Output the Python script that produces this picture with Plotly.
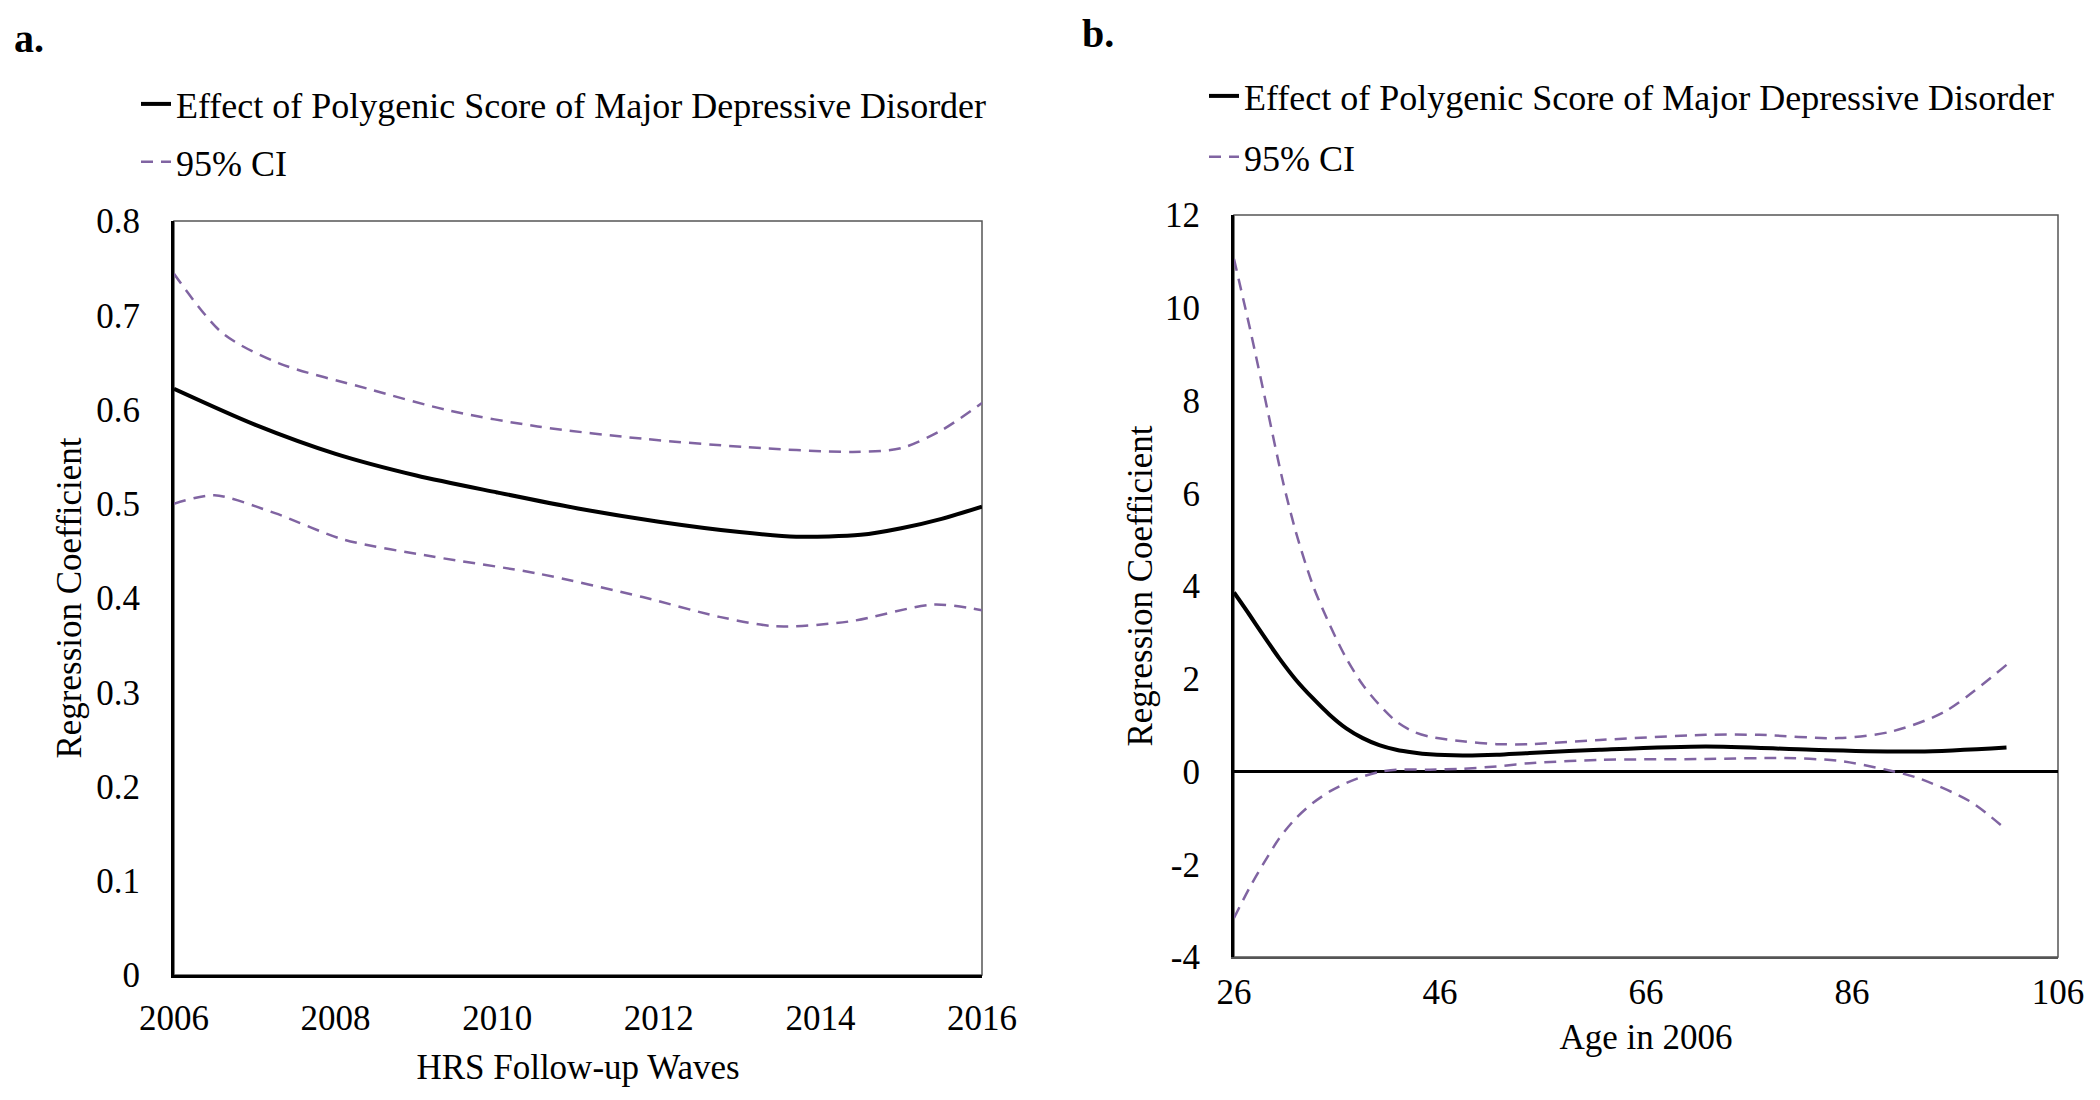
import plotly.graph_objects as go

# ---------------- Panel a data ----------------
a_main_x = [2006, 2007, 2008, 2009, 2010, 2011, 2012, 2013, 2013.7, 2014.5, 2015, 2015.5, 2016]
a_main_y = [0.622, 0.584, 0.553, 0.530, 0.512, 0.495, 0.481, 0.470, 0.465, 0.467, 0.474, 0.484, 0.497]
a_up_x = [2006, 2006.6, 2007.3, 2008.4, 2009.4, 2010.5, 2011.8, 2013.1, 2014.4, 2015, 2015.5, 2016]
a_up_y = [0.744, 0.681, 0.649, 0.622, 0.599, 0.582, 0.569, 0.560, 0.555, 0.559, 0.578, 0.607]
a_lo_x = [2006, 2006.5, 2007.25, 2008.1, 2009.2, 2010.5, 2011.8, 2012.75, 2013.45, 2014.35, 2015.4, 2016]
a_lo_y = [0.500, 0.509, 0.490, 0.462, 0.444, 0.426, 0.401, 0.380, 0.370, 0.375, 0.393, 0.387]
a_xticks = [2006, 2008, 2010, 2012, 2014, 2016]
a_yticks = [0, 0.1, 0.2, 0.3, 0.4, 0.5, 0.6, 0.7, 0.8]
a_yticklabels = ["0", "0.1", "0.2", "0.3", "0.4", "0.5", "0.6", "0.7", "0.8"]

# ---------------- Panel b data ----------------
b_main_x = [26, 27.5, 28.8, 30.4, 32.0, 33.65, 35.3, 36.9, 38.5, 40.1, 41.75, 43.4, 45.0, 48.2, 51.5, 54.7, 61.5, 71.8, 82.1, 92.4, 101]
b_main_y = [3.86, 3.38, 2.95, 2.44, 1.98, 1.58, 1.22, 0.93, 0.72, 0.57, 0.47, 0.41, 0.37, 0.345, 0.36, 0.40, 0.47, 0.54, 0.47, 0.43, 0.52]
b_up_x = [26, 27.6, 29.2, 30.7, 32.0, 33.65, 35.3, 36.9, 38.5, 40.1, 41.75, 43.4, 45.0, 48.2, 51.5, 54.7, 61.5, 71.8, 77.0, 84.7, 89.8, 95.0, 101]
b_up_y = [11.05, 9.5, 7.85, 6.3, 5.17, 4.02, 3.16, 2.44, 1.87, 1.44, 1.08, 0.86, 0.75, 0.65, 0.59, 0.59, 0.68, 0.79, 0.79, 0.72, 0.86, 1.29, 2.30]
b_lo_x = [26, 27.5, 28.8, 30.4, 32.0, 33.65, 35.3, 36.9, 38.5, 40.1, 41.75, 45.0, 48.2, 51.5, 54.7, 61.5, 71.8, 79.5, 84.7, 89.3, 92.4, 97.5, 101]
b_lo_y = [-3.16, -2.51, -2.01, -1.44, -1.01, -0.68, -0.43, -0.25, -0.11, -0.01, 0.04, 0.04, 0.06, 0.11, 0.18, 0.25, 0.27, 0.29, 0.23, 0.04, -0.14, -0.65, -1.26]
b_xticks = [26, 46, 66, 86, 106]
b_yticks = [-4, -2, 0, 2, 4, 6, 8, 10, 12]
b_yticklabels = ["-4", "-2", "0", "2", "4", "6", "8", "10", "12"]

MAIN_NAME = "Effect of Polygenic Score of Major Depressive Disorder"
CI_NAME = "95% CI"

FONT = "Liberation Serif, Times New Roman, serif"
FS = 35
PURPLE = "#8064A2"
W, H = 2100, 1100

fig = go.Figure()

def add_panel(xa, ya, legend, mx, my, ux, uy, lx, ly):
    fig.add_trace(go.Scatter(x=mx, y=my, mode="lines", name=MAIN_NAME,
                             line=dict(color="black", width=4, shape="spline", smoothing=0.8),
                             xaxis=xa, yaxis=ya, legend=legend, legendgroup=legend + "m"))
    fig.add_trace(go.Scatter(x=ux, y=uy, mode="lines", name=CI_NAME,
                             line=dict(color=PURPLE, width=2.5, dash="12px,8px", shape="spline", smoothing=0.8),
                             xaxis=xa, yaxis=ya, legend=legend, legendgroup=legend + "c"))
    fig.add_trace(go.Scatter(x=lx, y=ly, mode="lines", name=CI_NAME, showlegend=False,
                             line=dict(color=PURPLE, width=2.5, dash="12px,8px", shape="spline", smoothing=0.8),
                             xaxis=xa, yaxis=ya, legend=legend, legendgroup=legend + "c"))

add_panel("x", "y", "legend", a_main_x, a_main_y, a_up_x, a_up_y, a_lo_x, a_lo_y)
add_panel("x2", "y2", "legend2", b_main_x, b_main_y, b_up_x, b_up_y, b_lo_x, b_lo_y)

# domains from pixel positions
ax_dom = [174 / W, 982 / W]
ay_dom = [1 - 975 / H, 1 - 221 / H]
bx_dom = [1234 / W, 2058 / W]
by_dom = [1 - 957 / H, 1 - 215 / H]

tickfont = dict(family=FONT, size=FS, color="black")
titlefont = dict(family=FONT, size=FS, color="black")

legend_common = dict(font=dict(family=FONT, size=36, color="black"), bgcolor="rgba(0,0,0,0)",
                     xanchor="left", yanchor="top", tracegroupgap=8, itemwidth=30)

fig.update_layout(
    width=W, height=H,
    margin=dict(l=0, r=0, t=0, b=0),
    paper_bgcolor="white", plot_bgcolor="white",
    font=dict(family=FONT, size=FS, color="black"),
    legend=dict(x=136 / W, y=1 - 74 / H, **legend_common),
    legend2=dict(x=1204 / W, y=1 - 66 / H, **dict(legend_common, tracegroupgap=11)),
    xaxis=dict(domain=ax_dom, anchor="y", range=[2006, 2016], tickvals=a_xticks,
               showgrid=False, zeroline=False, showline=True, linecolor="black", linewidth=3,
               ticks="", ticklabelstandoff=10, tickfont=tickfont, automargin=False,
               title=dict(text="HRS Follow-up Waves", font=titlefont, standoff=18)),
    yaxis=dict(domain=ay_dom, anchor="x", range=[0, 0.8], tickvals=a_yticks, ticktext=a_yticklabels,
               showgrid=False, zeroline=False, showline=True, linecolor="black", linewidth=3,
               ticks="", ticklabelstandoff=24, tickfont=tickfont, automargin=False,
               title=dict(text="Regression Coefficient", font=titlefont, standoff=5)),
    xaxis2=dict(domain=bx_dom, anchor="y2", range=[26, 106], tickvals=b_xticks,
                showgrid=False, zeroline=False, showline=True, linecolor="#555555", linewidth=1.5,
                ticks="", ticklabelstandoff=3, tickfont=tickfont, automargin=False,
                title=dict(text="Age in 2006", font=titlefont, standoff=14)),
    yaxis2=dict(domain=by_dom, anchor="x2", range=[-4, 12], tickvals=b_yticks, ticktext=b_yticklabels,
                showgrid=False, zeroline=True, zerolinecolor="black", zerolinewidth=2.5,
                showline=True, linecolor="black", linewidth=3,
                ticks="", ticklabelstandoff=24, tickfont=tickfont, automargin=False,
                title=dict(text="Regression Coefficient", font=titlefont, standoff=2)),
)

# plot-area borders (top/right thin gray)
for xr, yr in (("x domain", "y domain"), ("x2 domain", "y2 domain")):
    fig.add_shape(type="rect", xref=xr, yref=yr, x0=0, x1=1, y0=0, y1=1,
                  line=dict(color="#555555", width=1.5), layer="below")

# panel letters
fig.add_annotation(text="<b>a.</b>", x=12 / W, y=1 - 39 / H, xref="paper", yref="paper",
                   xanchor="left", yanchor="middle", showarrow=False,
                   font=dict(family=FONT, size=40, color="black"))
fig.add_annotation(text="<b>b.</b>", x=1080 / W, y=1 - 33 / H, xref="paper", yref="paper",
                   xanchor="left", yanchor="middle", showarrow=False,
                   font=dict(family=FONT, size=40, color="black"))

fig.write_html("out.html")
